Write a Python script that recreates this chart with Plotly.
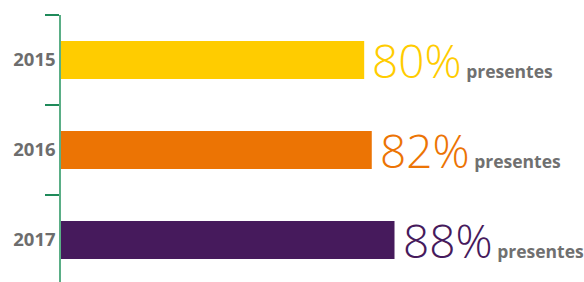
import plotly.graph_objects as go

years = ["2015", "2016", "2017"]
values = [80, 82, 88]
colors = ["#FFCC00", "#EC7404", "#461A5C"]
suffix = "presentes"

fig = go.Figure()
fig.add_trace(go.Bar(
    x=values, y=years, orientation="h",
    marker=dict(color=colors, line=dict(width=0)),
    hoverinfo="skip",
))

for i, (v, c) in enumerate(zip(values, colors)):
    fig.add_annotation(
        x=v, y=i, xref="x", yref="y",
        xanchor="left", yanchor="middle", xshift=6, yshift=0,
        showarrow=False,
        text=(f"<span style=\"font-size:46px;color:{c}\">{v}%</span>"
              f"<span style=\"font-size:17.5px;color:#707070\"><b> {suffix}</b></span>"),
        font=dict(family="Open Sans", size=17.5, color="#707070", weight=300),
    )

fig.update_layout(
    width=584, height=282,
    margin=dict(l=61, r=0, t=15, b=0, autoexpand=False),
    plot_bgcolor="white", paper_bgcolor="white",
    bargap=0.578,
    showlegend=False,
)
fig.update_xaxes(range=[0, 138], visible=False, fixedrange=True, automargin=False)
fig.update_yaxes(
    type="category",
    range=[2.467, -0.5],
    tickson="boundaries",
    ticks="outside", ticklen=14, tickcolor="#1f8a5a", tickwidth=1.5,
    showline=True, linecolor="#5aae86", linewidth=1.5,
    showgrid=False, automargin=False, fixedrange=True,
    tickfont=dict(family="Open Sans", size=18.5, color="#6d6d6d", weight="bold"),
)

fig.write_html("out.html", config={"displayModeBar": False},
               post_script="document.body.style.margin='0';")
